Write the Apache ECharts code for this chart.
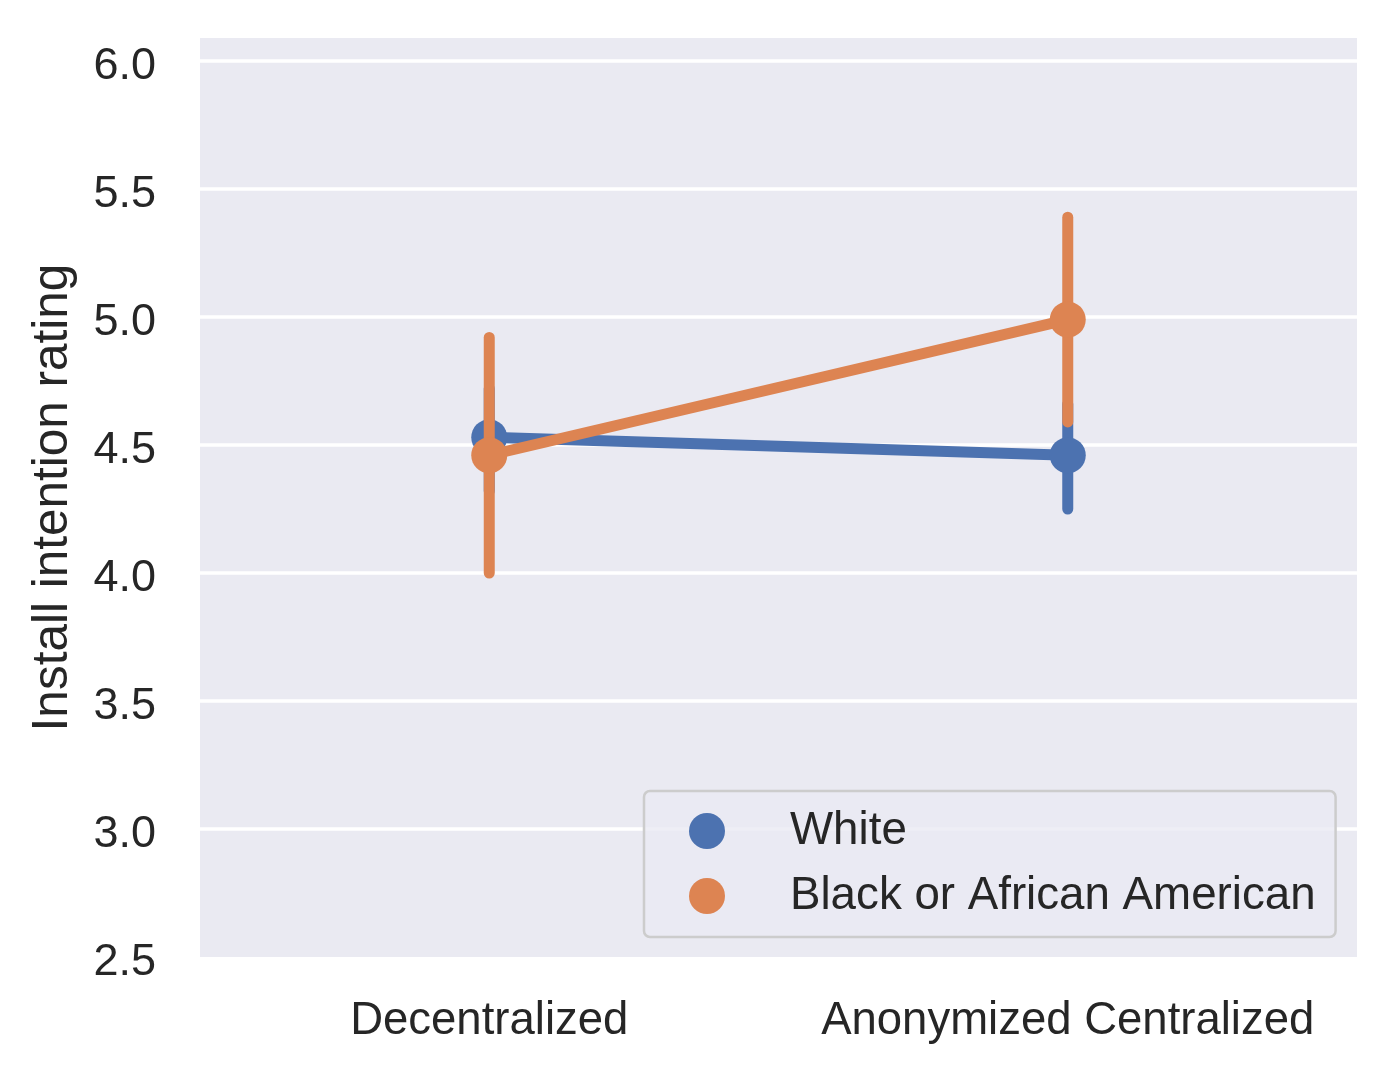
<!DOCTYPE html>
<html>
<head>
<meta charset="utf-8">
<script src="https://cdn.jsdelivr.net/npm/echarts@6/dist/echarts.min.js"></script>
<style>
  html, body { margin: 0; padding: 0; background: #fff; }
  #chart { width: 1395px; height: 1073px; }
</style>
</head>
<body>
<div id="chart"></div>
<script>
const categories = ["Decentralized", "Anonymized Centralized"];
const groups = ["White", "Black or African American"];

// point estimates and 95% CI bounds
const whiteMean = [4.53, 4.46];
const whiteLow = [4.32, 4.25];
const whiteHigh = [4.72, 4.66];
const blackMean = [4.46, 4.99];
const blackLow = [4.00, 4.59];
const blackHigh = [4.92, 5.39];

const yTicks = [2.5, 3.0, 3.5, 4.0, 4.5, 5.0, 5.5, 6.0];

const colors = ["#4c72b0", "#dd8452"];
const FONT = "'Liberation Sans', Arial, sans-serif";
const TEXT = "#262626";

function errRows(low, high) {
  return categories.map((c, i) => [i, low[i], high[i]]);
}

function errSeries(name, rows, color, z) {
  return {
    type: "custom",
    name: name,
    z: z,
    silent: true,
    data: rows,
    renderItem(params, api) {
      const a = api.coord([api.value(0), api.value(1)]);
      const b = api.coord([api.value(0), api.value(2)]);
      return {
        type: "line",
        shape: { x1: a[0], y1: a[1], x2: b[0], y2: b[1] },
        style: { stroke: color, lineWidth: 11, lineCap: "round" }
      };
    }
  };
}

function pointSeries(name, values, color, z) {
  return {
    type: "line",
    name: name,
    z: z,
    data: values,
    symbol: "circle",
    symbolSize: 36,
    showSymbol: true,
    itemStyle: { color: color },
    lineStyle: { color: color, width: 11 },
    emphasis: { disabled: true },
    animation: false
  };
}

const chart = echarts.init(document.getElementById("chart"));

chart.setOption({
  animation: false,
  textStyle: { fontFamily: FONT, color: TEXT },
  grid: {
    left: 200, right: 38, top: 38, bottom: 116,
    show: true, backgroundColor: "#eaeaf2", borderWidth: 0
  },
  legend: {
    orient: "vertical",
    left: 644,
    top: 791,
    padding: [17, 20, 18, 45],
    itemWidth: 36,
    itemHeight: 36,
    itemGap: 19,
    borderColor: "#cccccc",
    borderWidth: 2.5,
    borderRadius: 6,
    backgroundColor: "rgba(234,234,242,0.8)",
    data: groups.map((g, i) => ({ name: g, icon: "circle", itemStyle: { color: colors[i] } })),
    textStyle: { fontSize: 45.7, color: TEXT, fontFamily: FONT, padding: [0, 0, 0, 60] }
  },
  xAxis: {
    type: "category",
    data: categories,
    boundaryGap: true,
    axisLine: { show: false },
    axisTick: { show: false },
    splitLine: { show: false },
    axisLabel: { fontSize: 45.5, color: TEXT, margin: 41, fontFamily: FONT, interval: 0 }
  },
  yAxis: {
    type: "value",
    min: yTicks[0],
    max: 6.09,
    interval: 0.5,
    name: "Install intention rating",
    nameLocation: "middle",
    nameGap: 122,
    nameTextStyle: { fontSize: 49.5, color: TEXT, fontFamily: FONT },
    axisLine: { show: false },
    axisTick: { show: false },
    axisLabel: {
      color: TEXT, margin: 44,
      showMaxLabel: false,
      formatter: v => yTicks.some(t => Math.abs(t - v) < 1e-6) ? "{t|" + v.toFixed(1) + "}" : "",
      rich: {
        t: { fontSize: 45, color: TEXT, fontFamily: FONT, padding: [11, 0, 0, 0] }
      }
    },
    splitLine: {
      show: true,
      showMinLine: false,
      showMaxLine: false,
      lineStyle: { color: "#ffffff", width: 3.5 }
    }
  },
  series: [
    errSeries("White CI", errRows(whiteLow, whiteHigh), colors[0], 2),
    pointSeries(groups[0], whiteMean, colors[0], 3),
    errSeries("Black CI", errRows(blackLow, blackHigh), colors[1], 4),
    pointSeries(groups[1], blackMean, colors[1], 5)
  ]
});
</script>
</body>
</html>
